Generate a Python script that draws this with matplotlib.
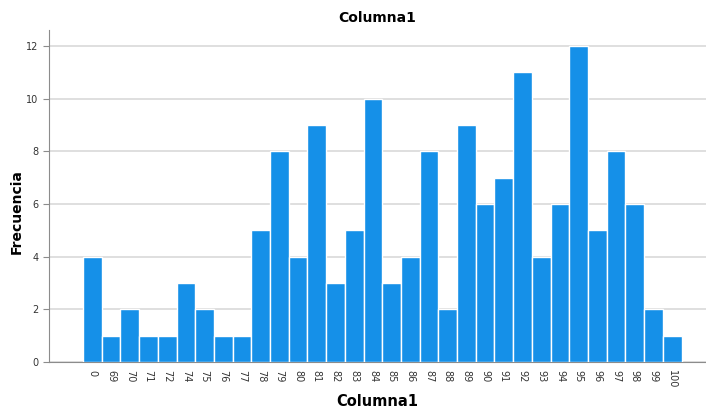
import matplotlib.pyplot as plt
import numpy as np

# Frequency table for Columna1
categories = ["0", "69", "70", "71", "72", "74", "75", "76", "77", "78", "79",
              "80", "81", "82", "83", "84", "85", "86", "87", "88", "89", "90",
              "91", "92", "93", "94", "95", "96", "97", "98", "99", "100"]
counts = [4, 1, 2, 1, 1, 3, 2, 1, 1, 5, 8, 4, 9, 3, 5, 10, 3, 4, 8, 2, 9, 6,
          7, 11, 4, 6, 12, 5, 8, 6, 2, 1]
y_ticks = [0, 2, 4, 6, 8, 10, 12]

BAR_COLOR = "#1590e8"
GRID_COLOR = "#d9d9d9"
SPINE_COLOR = "#8c8c8c"

W, H = 706, 408
fig = plt.figure(figsize=(W / 100, H / 100), dpi=100)
ax = fig.add_axes([49 / W, 46 / H, 1 - 49 / W, (362 - 30) / H])

x = np.arange(len(categories))
ax.bar(x, counts, width=1.0, color=BAR_COLOR, edgecolor="white",
       linewidth=1.0, zorder=3)

ax.set_xlim(-2.32, len(categories) - 0.5 + 1.31)
ax.set_ylim(0, 12.6)
ax.set_yticks(y_ticks)
ax.set_xticks(x)
ax.set_xticklabels(categories, rotation=270, fontsize=7, color="#333333")
ax.tick_params(axis="y", labelsize=7, colors="#333333", length=4,
               color=SPINE_COLOR)
ax.tick_params(axis="x", length=0, pad=6)

# Only horizontal grid lines
ax.yaxis.grid(True, color=GRID_COLOR, linewidth=1.2, zorder=0)
ax.set_axisbelow(True)

for side in ["top", "right"]:
    ax.spines[side].set_visible(False)
ax.spines["left"].set_color(SPINE_COLOR)
ax.spines["bottom"].set_color(SPINE_COLOR)

# Titles placed in figure pixels so nothing gets clipped
fig.text(377 / W, 1 - 18 / H, "Columna1", ha="center", va="center",
         fontsize=10, fontweight="bold")
fig.text(377 / W, 1 - 401 / H, "Columna1", ha="center", va="center",
         fontsize=10.5, fontweight="bold")
fig.text(17 / W, 1 - 212 / H, "Frecuencia", ha="center", va="center",
         rotation=90, fontsize=10, fontweight="bold")

fig.savefig("out.png", dpi=100)
plt.close(fig)
